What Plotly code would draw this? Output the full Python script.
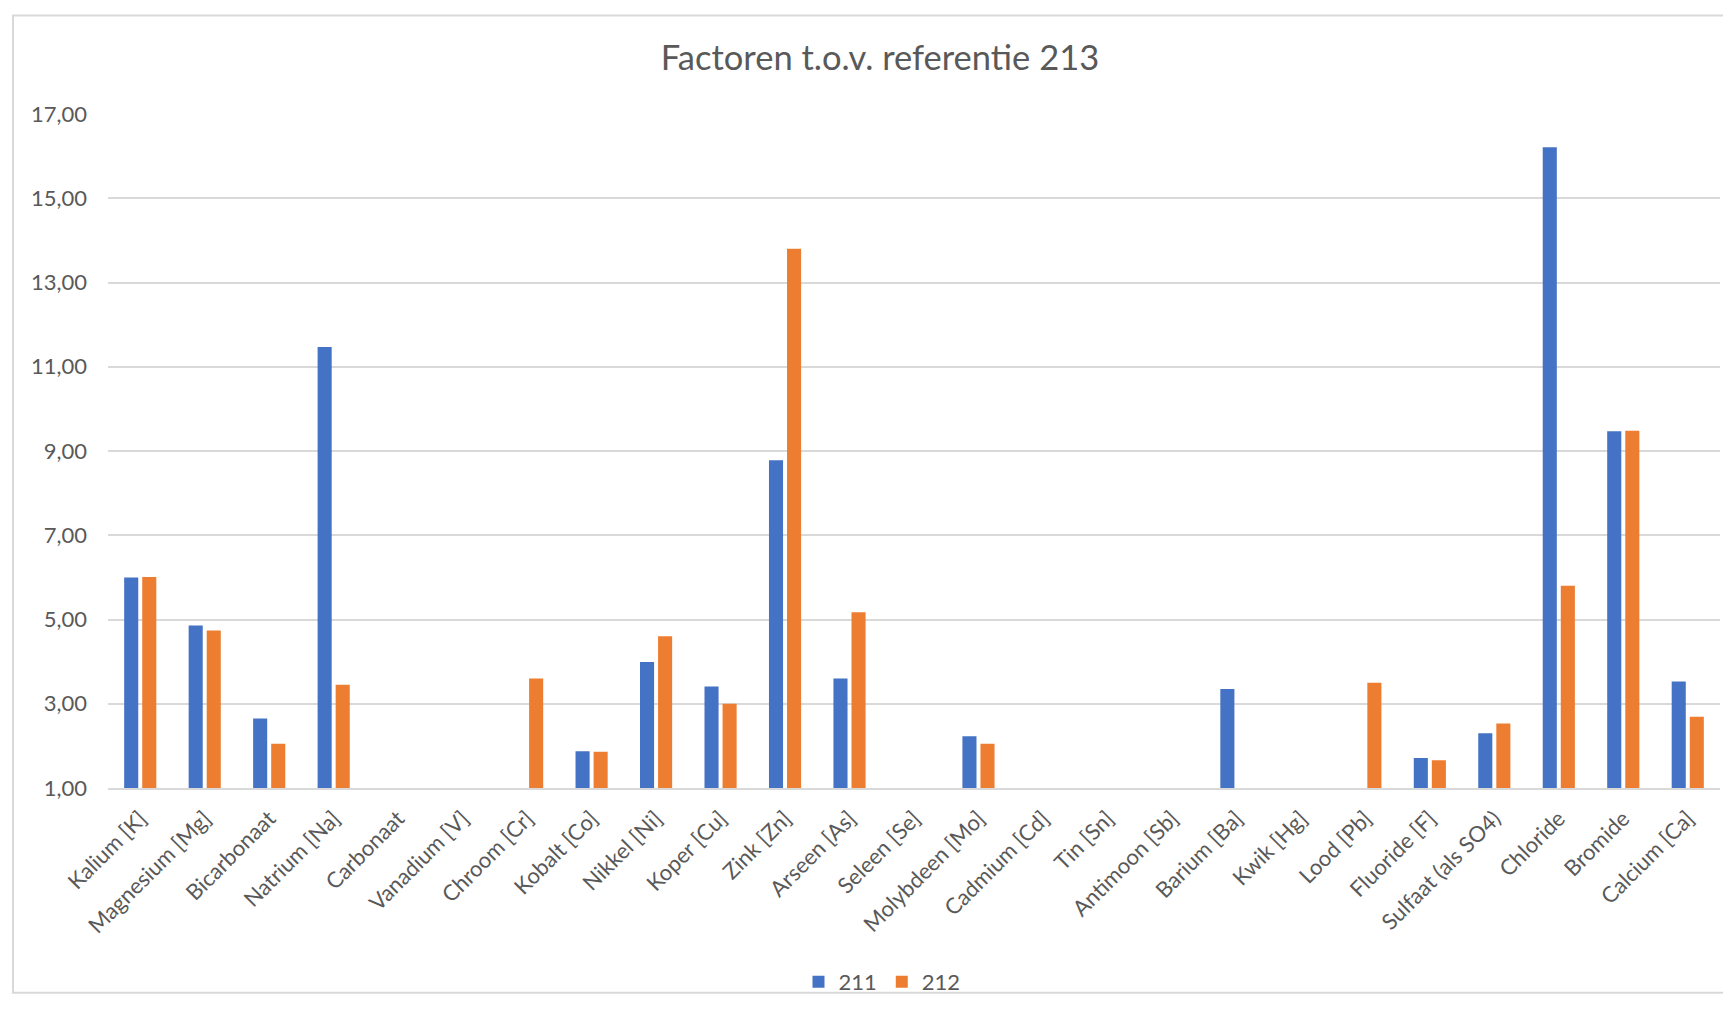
import plotly.graph_objects as go

categories = ["Kalium [K]", "Magnesium [Mg]", "Bicarbonaat", "Natrium [Na]", "Carbonaat",
              "Vanadium [V]", "Chroom [Cr]", "Kobalt [Co]", "Nikkel [Ni]", "Koper [Cu]",
              "Zink [Zn]", "Arseen [As]", "Seleen [Se]", "Molybdeen [Mo]", "Cadmium [Cd]",
              "Tin [Sn]", "Antimoon [Sb]", "Barium [Ba]", "Kwik [Hg]", "Lood [Pb]",
              "Fluoride [F]", "Sulfaat (als SO4)", "Chloride", "Bromide", "Calcium [Ca]"]

s211 = [6.00, 4.86, 2.65, 11.47, None, None, None, 1.87, 3.99, 3.41,
        8.78, 3.60, None, 2.23, None, None, None, 3.35, None, None,
        1.71, 2.30, 16.21, 9.47, 3.53]

s212 = [6.01, 4.74, 2.05, 3.45, None, None, 3.60, 1.86, 4.60, 3.00,
        13.80, 5.17, None, 2.05, None, None, None, None, None, 3.50,
        1.66, 2.53, 5.80, 9.48, 2.69]

yticks = [1, 3, 5, 7, 9, 11, 13, 15, 17]

FONT = "Lato"
OFF = 8  # default page body margin
W, H = 1731 - 2 * OFF, 1014 - 2 * OFF
# plot area in reference (page) pixels
PL, PR, PT, PB = 108, 1720, 114, 792
L, R, T, B = PL - OFF, W - (PR - OFF), PT - OFF, H - (PB - OFF)
pw, ph = W - L - R, H - T - B

def px(x):  # page px -> paper x
    return (x - OFF - L) / pw

def py(y):  # page px -> paper y
    return (H - B - (y - OFF)) / ph

fig = go.Figure()
fig.add_trace(go.Bar(x=categories, y=s211, name="211", marker_color="#4472C4", marker_line_width=0))
fig.add_trace(go.Bar(x=categories, y=s212, name="212", marker_color="#ED7D31", marker_line_width=0))

fig.update_layout(
    width=W, height=H,
    margin=dict(l=L, r=R, t=T, b=B),
    paper_bgcolor="white", plot_bgcolor="white",
    separators=",.",
    barmode="group", bargap=0.44, bargroupgap=0.22,
    font=dict(family=FONT, color="#595959", size=22),
    title=dict(text="Factoren t.o.v. referentie 213", xref="container",
               x=(880 - OFF) / W, xanchor="center",
               yref="container", y=1 - (58 - OFF) / H, yanchor="middle",
               font=dict(family=FONT, size=34.5, color="#595959")),
    legend=dict(orientation="h", x=px(882), xanchor="center", y=py(987), yanchor="middle",
                font=dict(family=FONT, size=22, color="#595959"), itemwidth=30,
                bgcolor="rgba(0,0,0,0)"),
    shapes=[dict(type="rect", xref="paper", yref="paper",
                 x0=px(13), x1=px(1728), y0=py(998), y1=py(15),
                 line=dict(color="#d9d9d9", width=2), layer="below")],
)
fig.update_xaxes(showgrid=False, showline=True, linecolor="#d9d9d9", linewidth=2,
                 tickangle=-45, ticks="", tickfont=dict(size=22, color="#595959"),
                 ticklabelstandoff=7)
fig.update_yaxes(range=[1, 17], tickvals=yticks, tickformat=".2f",
                 showgrid=True, gridcolor="#d9d9d9", gridwidth=2,
                 zeroline=False, showline=False, ticks="",
                 tickfont=dict(size=22, color="#595959"), ticklabelstandoff=20)

fig.write_html("out.html")
